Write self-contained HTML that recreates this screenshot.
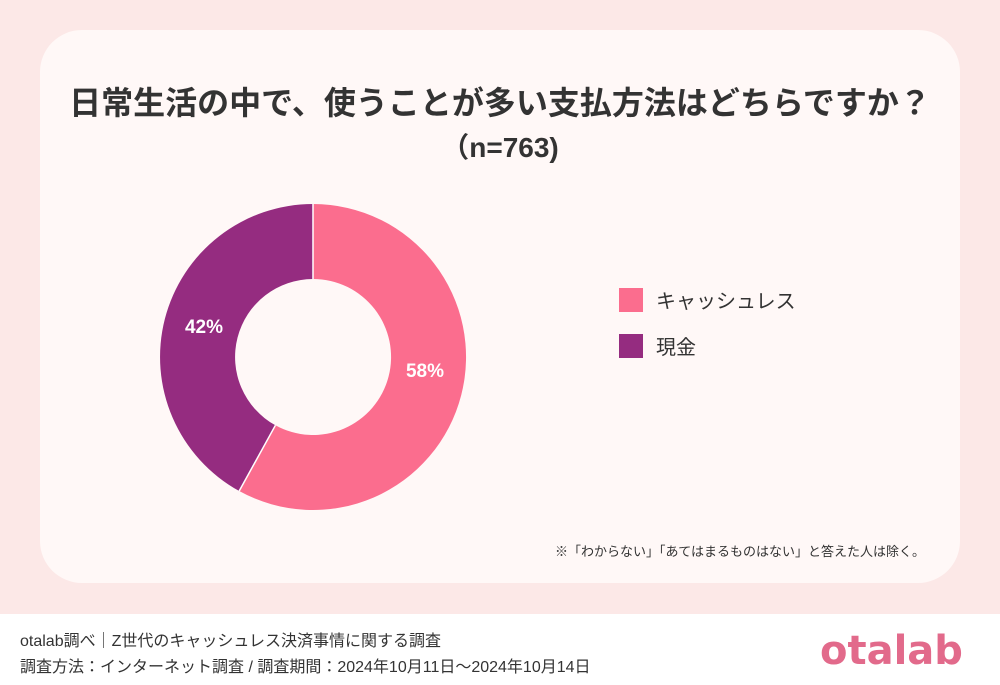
<!DOCTYPE html>
<html><head><meta charset="utf-8"><style>
body{margin:0;width:1000px;height:685px;background:#fff;font-family:"Liberation Sans","Noto Sans CJK JP",sans-serif;position:relative;overflow:hidden}
.bg{position:absolute;left:0;top:0;width:1000px;height:614px;background:#fce8e7}
.card{position:absolute;left:40px;top:30px;width:920px;height:553px;background:#fff8f7;border-radius:42px}
.t{position:absolute;left:0;width:1000px;text-align:center;font-weight:bold;color:#333;font-size:32px}
.sq{position:absolute;left:619px;width:24px;height:24px}
.lt{position:absolute;left:656px;font-size:20px;color:#333}
.f{position:absolute;left:20px;font-size:16px;color:#333}
</style></head><body>
<div class="bg"></div><div class="card"></div>
<div class="t" style="top:78px">日常生活の中で、使うことが多い支払方法はどちらですか？</div>
<div class="t" style="top:126px;font-size:28px">（n=763)</div>
<svg style="position:absolute;left:0;top:0" width="1000" height="685">
<path d="M313,204 A153,153 0 1 1 239.2,491.0 L275.4,425.3 A78,78 0 1 0 313,279 Z" fill="#fb6d8e"/>
<path d="M239.2,491.0 A153,153 0 0 1 313,204 L313,279 A78,78 0 0 0 275.4,425.3 Z" fill="#952c80"/>
<line x1="313" y1="204" x2="313" y2="279" stroke="#fff" stroke-width="1.5"/>
<line x1="239.2" y1="491" x2="275.4" y2="425.3" stroke="#fff" stroke-width="1.5"/>
<text x="425" y="377" font-size="19" font-weight="bold" fill="#fff" text-anchor="middle" font-family="Liberation Sans">58%</text>
<text x="204" y="333" font-size="19" font-weight="bold" fill="#fff" text-anchor="middle" font-family="Liberation Sans">42%</text>
</svg>
<div class="sq" style="top:288px;background:#fb6d8e"></div><div class="lt" style="top:285px">キャッシュレス</div>
<div class="sq" style="top:334px;background:#952c80"></div><div class="lt" style="top:331px">現金</div>
<div style="position:absolute;right:75px;top:541px;font-size:13px;color:#333">※「わからない」「あてはまるものはない」と答えた人は除く。</div>
<div class="f" style="top:627px">otalab調べ｜Z世代のキャッシュレス決済事情に関する調査</div>
<div class="f" style="top:653px">調査方法：インターネット調査 / 調査期間：2024年10月11日〜2024年10月14日</div>
<div style="position:absolute;left:820px;top:628px;font-size:40px;font-weight:bold;color:#e26a8b;font-family:'DejaVu Sans',sans-serif">otalab</div>
</body></html>
